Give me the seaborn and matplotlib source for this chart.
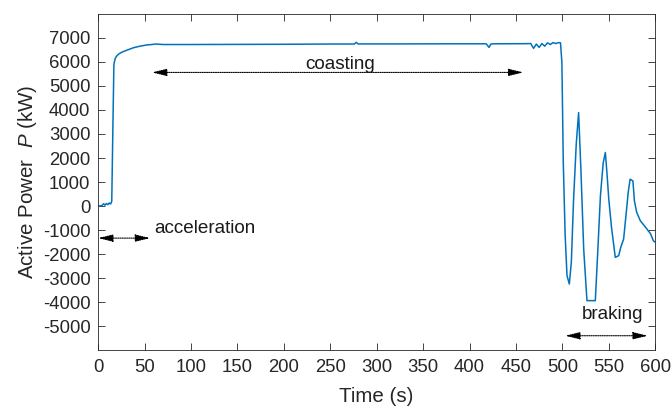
import pandas as pd
import matplotlib
matplotlib.use("Agg")
import matplotlib.pyplot as plt
import seaborn as sb

# DATA
#----------------------------------------------------
time_s = [0, 4, 6, 7.5, 9, 10.5, 12, 13.5, 14.7, 16, 17, 18.5, 20, 22, 25.5, 30, 38, 45, 52, 58, 62,
          70, 100, 150, 200, 250, 276, 278, 280, 320, 380, 418, 421, 423, 426, 460, 466, 469, 472,
          475, 478, 481, 484, 487, 490, 493, 496, 498, 499.5, 501, 503, 505, 507.5, 509.7, 512,
          515, 517.5, 520, 523, 526.5, 535.5, 538, 541, 544, 546.3, 548, 550, 553, 557, 560.7,
          563, 566, 569, 571, 573, 576, 577.6, 580, 584, 588, 591, 595, 598, 600]
power_kw = [0, 20, 100, 40, 110, 60, 130, 90, 200, 3500, 5900, 6150, 6240, 6320, 6400, 6470, 6585,
            6650, 6700, 6720, 6740, 6720, 6720, 6725, 6730, 6740, 6740, 6810, 6745, 6745, 6750,
            6750, 6600, 6740, 6750, 6755, 6760, 6560, 6740, 6600, 6760, 6650, 6790, 6720, 6800,
            6760, 6800, 6790, 5975, 1826, -1200, -2890, -3240, -2320, 200, 2600, 3890, 1500,
            -1800, -3930, -3930, -2000, 430, 1800, 2230, 1400, 290, -900, -2130, -2060, -1700,
            -1370, -200, 600, 1120, 1050, 220, -250, -610, -800, -950, -1150, -1440, -1500]

x_ticks = [0, 50, 100, 150, 200, 250, 300, 350, 400, 450, 500, 550, 600]
y_ticks = [-5000, -4000, -3000, -2000, -1000, 0, 1000, 2000, 3000, 4000, 5000, 6000, 7000]

phases = ["acceleration", "coasting", "braking"]
phase_start = [0, 58, 503]
phase_end = [56, 458, 592]
phase_arrow_y = [-1330, 5560, -5390]
phase_text_x = [60, 261, 554]
phase_text_y = [-910, 5900, -4520]
phase_text_ha = ["left", "center", "center"]

# PLOT
#----------------------------------------------------
def main():
    df = pd.DataFrame({"Time": time_s, "Power": power_kw})

    sb.set_style("ticks")
    plt.rcParams["font.family"] = ["Liberation Sans", "DejaVu Sans"]
    plt.rcParams["mathtext.fontset"] = "custom"
    plt.rcParams["mathtext.it"] = "Liberation Sans:italic"
    plt.rcParams["mathtext.rm"] = "Liberation Sans"
    plt.rcParams["axes.unicode_minus"] = False

    fig, ax = plt.subplots(figsize=(6.72, 4.11), dpi=100)
    sb.lineplot(data=df, x="Time", y="Power", color="#0072BD", linewidth=1.1, ax=ax)

    for name, x0, x1, ya, tx, ty, ha in zip(phases, phase_start, phase_end, phase_arrow_y,
                                             phase_text_x, phase_text_y, phase_text_ha):
        ax.annotate("", xy=(x0, ya), xytext=(x1, ya),
                    arrowprops=dict(arrowstyle="<|-|>,head_length=0.9,head_width=0.22",
                                    linestyle=(0, (1, 1)), color="black", lw=0.8,
                                    shrinkA=0, shrinkB=0))
        ax.text(tx, ty, name, ha=ha, va="center", fontsize=13.6, color="#1a1a1a")

    ax.set_xlim(0, 600)
    ax.set_ylim(-5990, 7990)
    ax.set_xticks(x_ticks)
    ax.set_yticks(y_ticks)
    ax.set_xlabel("Time (s)", fontsize=14.8, color="#262626", labelpad=8)
    ax.set_ylabel("Active Power  $P$ (kW)", fontsize=14.8, color="#262626", labelpad=3)
    ax.tick_params(direction="in", top=True, right=True, labelsize=13.3,
                   colors="#262626", length=5, width=0.6)
    ax.tick_params(axis="x", pad=6.5)
    ax.tick_params(axis="y", pad=5.5)
    for s in ax.spines.values():
        s.set_color("#262626")
        s.set_linewidth(0.6)

    plt.subplots_adjust(left=0.146, right=0.975, top=0.966, bottom=0.148)
    plt.savefig("out.png")

if __name__ == "__main__":
    main()
